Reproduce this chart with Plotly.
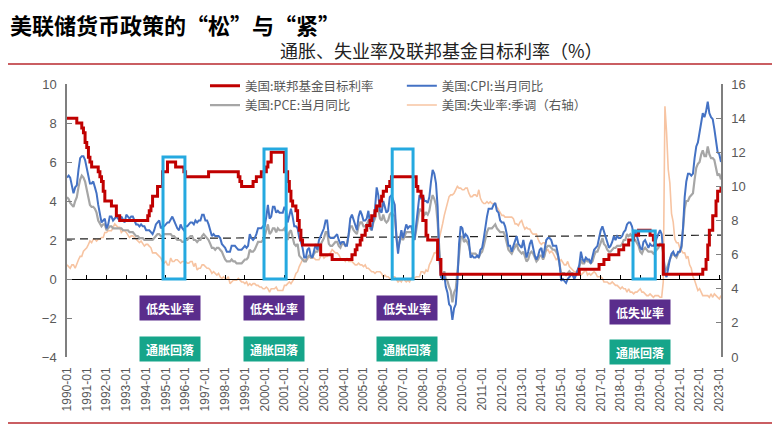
import pandas as pd
import plotly.graph_objects as go

# ---------------- data ----------------
cpi_yoy = [
    5.2, 5.3, 5.2, 4.7, 4.4, 4.7, 4.8, 5.6, 6.2, 6.3, 6.3, 6.1,   # 1990
    5.7, 5.3, 4.9, 4.9, 5.0, 4.7, 4.4, 3.8, 3.4, 2.9, 3.0, 3.1,   # 1991
    2.6, 2.8, 3.2, 3.2, 3.0, 3.1, 3.2, 3.1, 3.0, 3.2, 3.0, 2.9,   # 1992
    3.3, 3.2, 3.1, 3.2, 3.2, 3.0, 2.8, 2.8, 2.7, 2.8, 2.7, 2.7,   # 1993
    2.5, 2.5, 2.5, 2.4, 2.3, 2.5, 2.8, 2.9, 3.0, 2.6, 2.7, 2.7,   # 1994
    2.8, 2.9, 2.9, 3.1, 3.2, 3.0, 2.8, 2.6, 2.5, 2.8, 2.6, 2.5,   # 1995
    2.7, 2.7, 2.8, 2.9, 2.9, 2.8, 3.0, 2.9, 3.0, 3.0, 3.3, 3.3,   # 1996
    3.0, 3.0, 2.8, 2.5, 2.2, 2.3, 2.2, 2.2, 2.2, 2.1, 1.8, 1.7,   # 1997
    1.6, 1.4, 1.4, 1.4, 1.7, 1.7, 1.7, 1.6, 1.5, 1.5, 1.5, 1.6,   # 1998
    1.7, 1.6, 1.7, 2.3, 2.1, 2.0, 2.1, 2.3, 2.6, 2.6, 2.6, 2.7,   # 1999
    2.7, 3.2, 3.8, 3.1, 3.2, 3.7, 3.7, 3.4, 3.5, 3.4, 3.4, 3.4,   # 2000
    3.7, 3.5, 2.9, 3.3, 3.6, 3.2, 2.7, 2.7, 2.6, 2.1, 1.9, 1.6,   # 2001
    1.1, 1.1, 1.5, 1.6, 1.2, 1.1, 1.5, 1.8, 1.5, 2.0, 2.2, 2.4,   # 2002
    2.6, 3.0, 3.0, 2.2, 2.1, 2.1, 2.1, 2.2, 2.3, 2.0, 1.8, 1.9,   # 2003
    1.9, 1.7, 1.7, 2.3, 3.1, 3.3, 3.0, 2.7, 2.5, 3.2, 3.5, 3.3,   # 2004
    3.0, 3.0, 3.1, 3.5, 2.8, 2.5, 3.2, 3.6, 4.7, 4.3, 3.5, 3.4,   # 2005
    4.0, 3.6, 3.4, 3.5, 4.2, 4.3, 4.1, 3.8, 2.1, 1.3, 2.0, 2.5,   # 2006
    2.1, 2.4, 2.8, 2.6, 2.7, 2.7, 2.4, 2.0, 2.8, 3.5, 4.3, 4.1,   # 2007
    4.3, 4.0, 4.0, 3.9, 4.2, 5.0, 5.6, 5.4, 4.9, 3.7, 1.1, 0.1,   # 2008
    0.0, 0.2, -0.4, -0.7, -1.3, -1.4, -2.1, -1.5, -1.3, -0.2, 1.8, 2.7,  # 2009
    2.6, 2.1, 2.3, 2.2, 2.0, 1.1, 1.2, 1.1, 1.1, 1.2, 1.1, 1.5,   # 2010
    1.6, 2.1, 2.7, 3.2, 3.6, 3.6, 3.6, 3.8, 3.9, 3.5, 3.4, 3.0,   # 2011
    2.9, 2.9, 2.7, 2.3, 1.7, 1.7, 1.4, 1.7, 2.0, 2.2, 1.8, 1.7,   # 2012
    1.6, 2.0, 1.5, 1.1, 1.4, 1.8, 2.0, 1.5, 1.2, 1.0, 1.2, 1.5,   # 2013
    1.6, 1.1, 1.5, 2.0, 2.1, 2.1, 2.0, 1.7, 1.7, 1.7, 1.3, 0.8,   # 2014
    -0.1, 0.0, -0.1, -0.2, 0.0, 0.1, 0.2, 0.2, 0.0, 0.2, 0.5, 0.7,  # 2015
    1.4, 1.0, 0.9, 1.1, 1.0, 1.0, 0.8, 1.1, 1.5, 1.6, 1.7, 2.1,   # 2016
    2.5, 2.7, 2.4, 2.2, 1.9, 1.6, 1.7, 1.9, 2.2, 2.0, 2.2, 2.1,   # 2017
    2.1, 2.2, 2.4, 2.5, 2.8, 2.9, 2.9, 2.7, 2.3, 2.5, 2.2, 1.9,   # 2018
    1.6, 1.5, 1.9, 2.0, 1.8, 1.6, 1.8, 1.7, 1.7, 1.8, 2.1, 2.3,   # 2019
    2.5, 2.3, 1.5, 0.3, 0.1, 0.6, 1.0, 1.3, 1.4, 1.2, 1.2, 1.4,   # 2020
    1.4, 1.7, 2.6, 4.2, 5.0, 5.4, 5.4, 5.3, 5.4, 6.2, 6.8, 7.0,   # 2021
    7.5, 7.9, 8.5, 8.3, 8.6, 9.1, 8.5, 8.3, 8.2, 7.7, 7.1, 6.5,   # 2022
    6.4, 6.0,                                                     # 2023
]

pce_yoy = [
    4.2, 4.1, 3.9, 3.8, 3.7, 4.0, 4.2, 4.7, 5.1, 5.3, 5.2, 5.0,   # 1990
    4.6, 4.1, 3.8, 3.7, 3.7, 3.6, 3.4, 3.0, 2.8, 2.7, 2.8, 2.8,   # 1991
    2.5, 2.6, 2.7, 2.7, 2.6, 2.6, 2.6, 2.6, 2.6, 2.6, 2.5, 2.5,   # 1992
    2.5, 2.5, 2.4, 2.4, 2.4, 2.3, 2.2, 2.2, 2.1, 2.1, 2.1, 2.0,   # 1993
    2.0, 2.0, 2.0, 2.0, 2.0, 2.1, 2.2, 2.3, 2.3, 2.2, 2.2, 2.3,   # 1994
    2.3, 2.3, 2.3, 2.3, 2.2, 2.2, 2.1, 2.0, 2.0, 2.0, 1.9, 1.9,   # 1995
    2.0, 2.0, 2.1, 2.2, 2.2, 2.0, 2.0, 1.9, 2.0, 2.0, 2.2, 2.3,   # 1996
    2.2, 2.1, 2.0, 1.8, 1.6, 1.6, 1.5, 1.6, 1.6, 1.5, 1.4, 1.2,   # 1997
    1.0, 0.9, 0.9, 0.9, 1.0, 0.9, 0.9, 0.8, 0.8, 0.8, 0.8, 0.9,   # 1998
    1.0, 1.0, 1.1, 1.5, 1.4, 1.4, 1.5, 1.7, 1.9, 1.9, 1.9, 2.0,   # 1999
    2.2, 2.5, 2.8, 2.3, 2.4, 2.6, 2.6, 2.4, 2.6, 2.5, 2.5, 2.5,   # 2000
    2.6, 2.4, 2.0, 2.4, 2.5, 2.2, 1.8, 1.7, 1.8, 1.2, 1.1, 1.0,   # 2001
    0.9, 0.9, 1.1, 1.2, 1.1, 1.1, 1.3, 1.4, 1.4, 1.6, 1.8, 1.9,   # 2002
    2.1, 2.4, 2.4, 1.8, 1.7, 1.7, 1.8, 1.9, 1.9, 1.7, 1.6, 1.8,   # 2003
    1.8, 1.7, 1.8, 2.3, 2.7, 2.7, 2.5, 2.4, 2.3, 2.7, 2.9, 2.9,   # 2004
    2.7, 2.7, 2.8, 3.0, 2.6, 2.5, 2.9, 3.1, 3.8, 3.6, 3.1, 3.0,   # 2005
    3.3, 3.0, 2.9, 3.0, 3.3, 3.4, 3.3, 3.2, 2.2, 1.6, 1.9, 2.2,   # 2006
    2.0, 2.2, 2.4, 2.4, 2.4, 2.4, 2.3, 2.0, 2.5, 3.0, 3.6, 3.5,   # 2007
    3.5, 3.3, 3.4, 3.3, 3.5, 4.0, 4.3, 4.1, 3.8, 2.9, 1.2, 0.3,   # 2008
    0.1, 0.4, 0.0, -0.1, -0.4, -0.6, -1.2, -0.7, -0.5, 0.3, 1.4, 2.1,  # 2009
    2.2, 1.9, 2.0, 1.9, 1.7, 1.3, 1.3, 1.3, 1.3, 1.2, 1.1, 1.3,   # 2010
    1.4, 1.7, 2.1, 2.4, 2.6, 2.6, 2.6, 2.7, 2.8, 2.6, 2.5, 2.4,   # 2011
    2.4, 2.4, 2.2, 1.9, 1.5, 1.4, 1.3, 1.5, 1.7, 1.8, 1.5, 1.4,   # 2012
    1.3, 1.4, 1.1, 0.9, 1.0, 1.3, 1.4, 1.3, 1.1, 0.9, 1.0, 1.2,   # 2013
    1.2, 1.0, 1.2, 1.6, 1.7, 1.7, 1.6, 1.5, 1.5, 1.4, 1.2, 0.8,   # 2014
    0.3, 0.3, 0.3, 0.2, 0.3, 0.4, 0.3, 0.3, 0.2, 0.2, 0.4, 0.6,   # 2015
    1.0, 0.8, 0.8, 1.0, 0.9, 0.9, 0.8, 0.9, 1.2, 1.4, 1.4, 1.6,   # 2016
    1.9, 2.1, 1.8, 1.7, 1.5, 1.4, 1.4, 1.5, 1.6, 1.6, 1.7, 1.7,   # 2017
    1.7, 1.8, 2.0, 2.0, 2.3, 2.2, 2.3, 2.2, 2.0, 2.0, 1.8, 1.7,   # 2018
    1.4, 1.3, 1.5, 1.6, 1.5, 1.4, 1.4, 1.4, 1.3, 1.4, 1.5, 1.6,   # 2019
    1.8, 1.8, 1.3, 0.4, 0.5, 0.8, 1.0, 1.2, 1.3, 1.2, 1.1, 1.3,   # 2020
    1.4, 1.6, 2.5, 3.6, 4.0, 4.0, 4.2, 4.3, 4.4, 5.1, 5.7, 5.9,   # 2021
    6.0, 6.4, 6.6, 6.3, 6.3, 6.8, 6.4, 6.2, 6.2, 6.1, 5.7, 5.3,   # 2022
    5.4, 5.1,                                                     # 2023
]

unemployment = [
    5.4, 5.3, 5.2, 5.4, 5.4, 5.2, 5.5, 5.7, 5.9, 5.9, 6.2, 6.3,   # 1990
    6.4, 6.6, 6.8, 6.7, 6.9, 6.9, 6.8, 6.9, 6.9, 7.0, 7.0, 7.3,   # 1991
    7.3, 7.4, 7.4, 7.4, 7.6, 7.8, 7.7, 7.6, 7.6, 7.3, 7.4, 7.4,   # 1992
    7.3, 7.1, 7.0, 7.1, 7.1, 7.0, 6.9, 6.8, 6.7, 6.8, 6.6, 6.5,   # 1993
    6.6, 6.6, 6.5, 6.4, 6.1, 6.1, 6.1, 6.0, 5.9, 5.8, 5.6, 5.5,   # 1994
    5.6, 5.4, 5.4, 5.8, 5.6, 5.6, 5.7, 5.7, 5.6, 5.5, 5.6, 5.6,   # 1995
    5.6, 5.5, 5.5, 5.6, 5.6, 5.3, 5.5, 5.1, 5.2, 5.2, 5.4, 5.4,   # 1996
    5.3, 5.2, 5.2, 5.1, 4.9, 5.0, 4.9, 4.8, 4.9, 4.7, 4.6, 4.7,   # 1997
    4.6, 4.6, 4.7, 4.3, 4.4, 4.5, 4.5, 4.5, 4.6, 4.5, 4.4, 4.4,   # 1998
    4.3, 4.4, 4.2, 4.3, 4.2, 4.3, 4.3, 4.2, 4.2, 4.1, 4.1, 4.0,   # 1999
    4.0, 4.1, 4.0, 3.8, 4.0, 4.0, 4.0, 4.1, 3.9, 3.9, 3.9, 3.9,   # 2000
    4.2, 4.2, 4.3, 4.4, 4.3, 4.5, 4.6, 4.9, 5.0, 5.3, 5.5, 5.7,   # 2001
    5.7, 5.7, 5.7, 5.9, 5.8, 5.8, 5.8, 5.7, 5.7, 5.7, 5.9, 6.0,   # 2002
    5.8, 5.9, 5.9, 6.0, 6.1, 6.3, 6.2, 6.1, 6.1, 6.0, 5.8, 5.7,   # 2003
    5.7, 5.6, 5.8, 5.6, 5.6, 5.6, 5.5, 5.4, 5.4, 5.5, 5.4, 5.4,   # 2004
    5.3, 5.4, 5.2, 5.2, 5.1, 5.0, 5.0, 4.9, 5.0, 5.0, 5.0, 4.9,   # 2005
    4.7, 4.8, 4.7, 4.7, 4.6, 4.6, 4.7, 4.7, 4.5, 4.4, 4.5, 4.4,   # 2006
    4.6, 4.5, 4.4, 4.5, 4.4, 4.6, 4.7, 4.6, 4.7, 4.7, 4.7, 5.0,   # 2007
    5.0, 4.9, 5.1, 5.0, 5.4, 5.6, 5.8, 6.1, 6.1, 6.5, 6.8, 7.3,   # 2008
    7.8, 8.3, 8.7, 9.0, 9.4, 9.5, 9.5, 9.6, 9.8, 10.0, 9.9, 9.9,  # 2009
    9.8, 9.8, 9.9, 9.9, 9.6, 9.4, 9.4, 9.5, 9.5, 9.4, 9.8, 9.3,   # 2010
    9.1, 9.0, 9.0, 9.1, 9.0, 9.1, 9.0, 9.0, 9.0, 8.8, 8.6, 8.5,   # 2011
    8.3, 8.3, 8.2, 8.2, 8.2, 8.2, 8.2, 8.1, 7.8, 7.8, 7.7, 7.9,   # 2012
    8.0, 7.7, 7.5, 7.6, 7.5, 7.5, 7.3, 7.2, 7.2, 7.2, 6.9, 6.7,   # 2013
    6.6, 6.7, 6.7, 6.2, 6.3, 6.1, 6.2, 6.1, 5.9, 5.7, 5.8, 5.6,   # 2014
    5.7, 5.5, 5.4, 5.4, 5.6, 5.3, 5.2, 5.1, 5.0, 5.0, 5.1, 5.0,   # 2015
    4.8, 4.9, 5.0, 5.1, 4.8, 4.9, 4.8, 4.9, 5.0, 4.9, 4.7, 4.7,   # 2016
    4.7, 4.6, 4.4, 4.4, 4.4, 4.3, 4.3, 4.4, 4.3, 4.2, 4.2, 4.1,   # 2017
    4.0, 4.1, 4.0, 4.0, 3.8, 4.0, 3.8, 3.8, 3.7, 3.8, 3.8, 3.9,   # 2018
    4.0, 3.8, 3.8, 3.7, 3.6, 3.6, 3.7, 3.6, 3.5, 3.6, 3.6, 3.6,   # 2019
    3.5, 3.5, 4.4, 14.7, 13.2, 11.0, 10.2, 8.4, 7.9, 6.9, 6.7, 6.7,  # 2020
    6.4, 6.2, 6.1, 6.1, 5.8, 5.9, 5.4, 5.2, 4.7, 4.5, 4.2, 3.9,   # 2021
    4.0, 3.8, 3.6, 3.6, 3.6, 3.6, 3.5, 3.7, 3.5, 3.7, 3.6, 3.5,   # 2022
    3.4, 3.6,                                                     # 2023
]

# Fed funds target rate (upper bound after 2008): month of change -> new level
ff_dates = [
    "1990-01", "1990-07", "1990-10", "1990-11", "1990-12",
    "1991-01", "1991-02", "1991-03", "1991-04", "1991-08", "1991-09", "1991-10", "1991-11", "1991-12",
    "1992-04", "1992-07", "1992-09",
    "1994-02", "1994-03", "1994-04", "1994-05", "1994-08", "1994-11", "1995-02",
    "1995-07", "1995-12", "1996-01", "1997-03",
    "1998-09", "1998-10", "1998-11",
    "1999-06", "1999-08", "1999-11", "2000-02", "2000-03", "2000-05",
    "2001-01", "2001-03", "2001-04", "2001-05", "2001-06", "2001-08", "2001-09", "2001-10", "2001-11", "2001-12",
    "2002-11", "2003-06",
    "2004-06", "2004-08", "2004-09", "2004-11", "2004-12",
    "2005-02", "2005-03", "2005-05", "2005-06", "2005-08", "2005-09", "2005-11", "2005-12",
    "2006-01", "2006-03", "2006-05", "2006-06",
    "2007-09", "2007-10", "2007-12",
    "2008-01", "2008-03", "2008-04", "2008-10", "2008-12",
    "2015-12", "2016-12", "2017-03", "2017-06", "2017-12",
    "2018-03", "2018-06", "2018-09", "2018-12",
    "2019-07", "2019-09", "2019-10", "2020-03",
    "2022-03", "2022-05", "2022-06", "2022-07", "2022-09", "2022-11", "2022-12",
    "2023-02",
]
ff_values = [
    8.25, 8.0, 7.75, 7.5, 7.0,
    6.75, 6.25, 6.0, 5.75, 5.5, 5.25, 5.0, 4.5, 4.0,
    3.75, 3.25, 3.0,
    3.25, 3.5, 3.75, 4.25, 4.75, 5.5, 6.0,
    5.75, 5.5, 5.25, 5.5,
    5.25, 5.0, 4.75,
    5.0, 5.25, 5.5, 5.75, 6.0, 6.5,
    5.5, 5.0, 4.5, 4.0, 3.75, 3.5, 3.0, 2.5, 2.0, 1.75,
    1.25, 1.0,
    1.25, 1.5, 1.75, 2.0, 2.25,
    2.5, 2.75, 3.0, 3.25, 3.5, 3.75, 4.0, 4.25,
    4.5, 4.75, 5.0, 5.25,
    4.75, 4.5, 4.25,
    3.0, 2.25, 2.0, 1.0, 0.25,
    0.5, 0.75, 1.0, 1.25, 1.5,
    1.75, 2.0, 2.25, 2.5,
    2.25, 2.0, 1.75, 0.25,
    0.5, 1.0, 1.75, 2.5, 3.25, 4.0, 4.5,
    4.75,
]

# dashed reference line (start / end level)
ref_dates = ["1990-01", "2023-02"]
ref_values = [2.05, 2.25]

# highlighted periods (start, end, top level) and their labels
hl_start = ["1994-11-10", "1999-12-20", "2006-06-15", "2018-08-20"]
hl_end = ["1995-12-20", "2001-02-01", "2007-07-05", "2019-10-05"]
hl_top = [6.26, 6.67, 6.67, 2.46]
label_x = ["1995-03-20", "2000-06-20", "2007-03-10", "2019-01-01"]
label_unemp_y = [-1.49, -1.49, -1.49, -1.69]
label_infl_y = [-3.59, -3.59, -3.59, -3.74]
label_unemp_text = "低失业率"
label_infl_text = "通胀回落"

year_ticks = [f"{y}-01-01" for y in range(1990, 2024)]
year_tick_text = [f"{y}-01" for y in range(1990, 2024)]

months = pd.date_range("1990-01-01", periods=len(cpi_yoy), freq="MS")
ff_x = pd.to_datetime(ff_dates)
ref_x = pd.to_datetime(ref_dates)

CJK = "Noto Sans CJK SC"
LAT = "Liberation Sans"
TICK_C = "#595959"
AX_C = "#7f7f7f"

fig = go.Figure()

# unemployment on base axis (right side) so it sits underneath
fig.add_trace(go.Scatter(
    x=months, y=unemployment, mode="lines", name="美国:失业率:季调（右轴）",
    line=dict(color="#f7c4a2", width=1.6), xaxis="x", yaxis="y",
    legend="legend2", legendrank=2, hoverinfo="skip"))

fig.add_trace(go.Scatter(
    x=ref_x, y=ref_values, mode="lines", showlegend=False,
    line=dict(color="#222222", width=1.2, dash="8px,5px"), xaxis="x", yaxis="y2",
    hoverinfo="skip"))

fig.add_trace(go.Scatter(
    x=months, y=pce_yoy, mode="lines", name="美国:PCE:当月同比",
    line=dict(color="#a6a6a6", width=2.2), xaxis="x", yaxis="y2",
    legend="legend", legendrank=2, hoverinfo="skip"))

fig.add_trace(go.Scatter(
    x=months, y=cpi_yoy, mode="lines", name="美国:CPI:当月同比",
    line=dict(color="#4472c4", width=2), xaxis="x", yaxis="y2",
    legend="legend2", legendrank=1, hoverinfo="skip"))

fig.add_trace(go.Scatter(
    x=ff_x, y=ff_values, mode="lines", name="美国:联邦基金目标利率",
    line=dict(color="#c00000", width=3, shape="hv"), xaxis="x", yaxis="y2",
    legend="legend", legendrank=1, hoverinfo="skip"))

# invisible trace to carry the zero-line axis with its ticks
fig.add_trace(go.Scatter(
    x=[months[0], months[-1]], y=[0, 0], mode="lines", showlegend=False,
    line=dict(width=0), opacity=0, xaxis="x2", yaxis="y2", hoverinfo="skip"))

x_range = [months[0], months[-1]]

shapes = []
for s, e, t in zip(hl_start, hl_end, hl_top):
    shapes.append(dict(type="rect", xref="x", yref="y2", x0=s, x1=e, y0=0, y1=t,
                       line=dict(color="#25a9e0", width=3), fillcolor="rgba(0,0,0,0)",
                       layer="above"))
# decorative red rules (page frame)
shapes.append(dict(type="line", xref="paper", yref="paper", x0=-0.102, x1=1.087,
                   y0=1.073, y1=1.073, line=dict(color="#b8282e", width=1.5)))
shapes.append(dict(type="line", xref="paper", yref="paper", x0=-0.102, x1=1.087,
                   y0=-0.242, y1=-0.242, line=dict(color="#b8282e", width=1.5)))

annotations = [
    dict(text="<b>美联储货币政策的“松”与“紧”</b>", xref="paper", yref="paper",
         x=-0.090, y=1.221, xanchor="left", yanchor="middle", showarrow=False,
         font=dict(family=CJK, size=22, color="#000000")),
    dict(text="通胀、失业率及联邦基金目标利率（%）", xref="paper", yref="paper",
         x=0.322, y=1.125, xanchor="left", yanchor="middle", showarrow=False,
         font=dict(family=CJK, size=18, color="#222222")),
]
for lx, uy, iy in zip(label_x, label_unemp_y, label_infl_y):
    annotations.append(dict(text=f"<b>{label_unemp_text}</b>", x=lx, y=uy, xref="x", yref="y2",
                            showarrow=False, bgcolor="#5a2d8c", width=58, height=22,
                            font=dict(family=CJK, size=12, color="white")))
    annotations.append(dict(text=f"<b>{label_infl_text}</b>", x=lx, y=iy, xref="x", yref="y2",
                            showarrow=False, bgcolor="#16a58a", width=58, height=22,
                            font=dict(family=CJK, size=12, color="white")))

fig.update_layout(
    width=780, height=447,
    margin=dict(l=59, r=67, t=76, b=98),
    paper_bgcolor="white", plot_bgcolor="white",
    showlegend=True,
    legend=dict(x=0.211, y=1.047, xanchor="left", yanchor="top", orientation="v",
                bgcolor="rgba(0,0,0,0)", font=dict(family=CJK, size=12.5, color=TICK_C),
                itemwidth=30, tracegroupgap=0),
    legend2=dict(x=0.512, y=1.047, xanchor="left", yanchor="top", orientation="v",
                 bgcolor="rgba(0,0,0,0)", font=dict(family=CJK, size=12.5, color=TICK_C),
                 itemwidth=30, tracegroupgap=0),
    xaxis=dict(type="date", range=x_range, tickvals=year_ticks, ticktext=year_tick_text,
               tickangle=-90, showgrid=False, showline=False, zeroline=False, ticks="",
               tickfont=dict(family=LAT, size=12, color=TICK_C), ticklabelstandoff=7),
    xaxis2=dict(type="date", matches="x", overlaying="x", anchor="free", position=4/14,
                tickvals=year_ticks, showticklabels=False, showgrid=False,
                showline=True, linecolor="#000000", linewidth=1.2,
                ticks="inside", ticklen=4, tickcolor="#000000", tickwidth=1),
    yaxis=dict(range=[0, 16], dtick=2, side="right", showgrid=False, zeroline=False,
               showline=True, linecolor=AX_C, linewidth=1.5, ticks="inside", ticklen=5,
               tickcolor=AX_C, tickfont=dict(family=LAT, size=13, color=TICK_C),
               ticklabelstandoff=6),
    yaxis2=dict(range=[-4, 10], dtick=2, side="left", overlaying="y", showgrid=False,
                zeroline=False, showline=True, linecolor=AX_C, linewidth=1.5,
                ticks="inside", ticklen=5, tickcolor=AX_C,
                tickfont=dict(family=LAT, size=13, color=TICK_C), ticklabelstandoff=6),
    shapes=shapes,
    annotations=annotations,
)

fig.write_html("out.html")
